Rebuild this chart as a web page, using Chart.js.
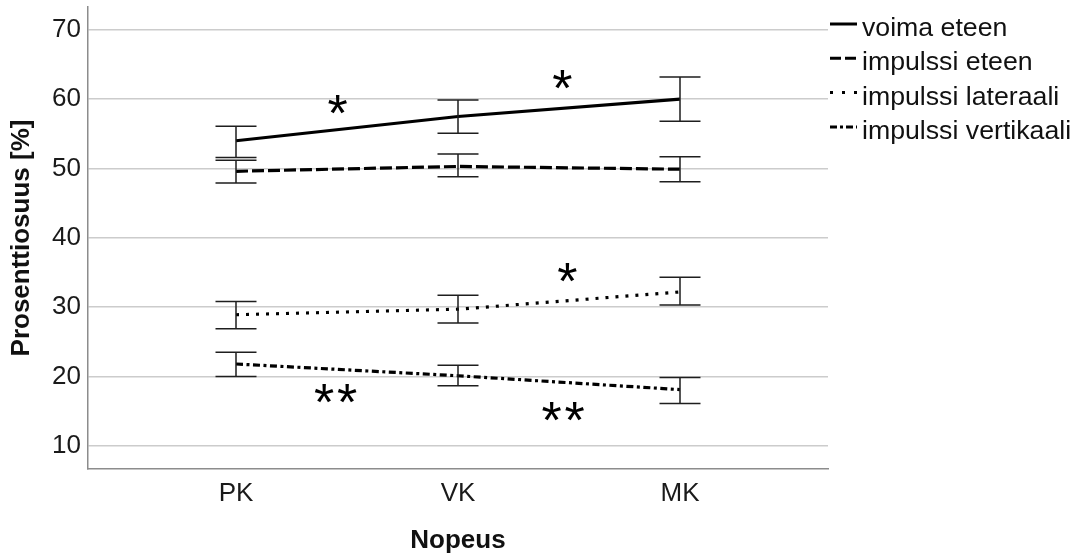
<!DOCTYPE html>
<html>
<head>
<meta charset="utf-8">
<script src="https://cdn.jsdelivr.net/npm/chart.js@4"></script>
<style>
  html, body { margin: 0; padding: 0; background: #ffffff; }
  #wrap { width: 1076px; height: 556px; }
</style>
</head>
<body>
<div id="wrap"><canvas id="chart" width="1076" height="556"></canvas></div>
<script>
// Speed categories (x axis)
const categories = ['PK', 'VK', 'MK'];
const yTicks = [10, 20, 30, 40, 50, 60, 70];

// Series means with error bar limits, in percent
const voimaEteen        = [54.0, 57.5, 60.0];
const voimaEteenLow     = [51.6, 55.1, 56.8];
const voimaEteenHigh    = [56.1, 59.9, 63.2];

const impulssiEteen     = [49.6, 50.3, 49.9];
const impulssiEteenLow  = [47.9, 48.8, 48.1];
const impulssiEteenHigh = [51.2, 52.1, 51.7];

const impulssiLat       = [28.9, 29.7, 32.2];
const impulssiLatLow    = [26.9, 27.7, 30.3];
const impulssiLatHigh   = [30.8, 31.7, 34.3];

const impulssiVert      = [21.8, 20.1, 18.1];
const impulssiVertLow   = [20.0, 18.65, 16.1];
const impulssiVertHigh  = [23.5, 21.6, 19.85];

// Significance markers (number of stars), anchored in data units between categories
const sigStars = [1, 1, 1, 2, 2];
const sigX     = [1.458, 2.470, 2.493, 1.449, 2.474];
const sigY     = [59.2, 62.9, 35.0, 17.6, 14.9];

const FONT = "'Liberation Sans', Arial, Helvetica, sans-serif";

function pts(values) {
  return values.map((v, i) => ({ x: i + 1, y: v }));
}

const datasets = [
  { label: 'voima eteen', data: pts(voimaEteen), low: voimaEteenLow, high: voimaEteenHigh,
    borderDash: [], legendDash: [] },
  { label: 'impulssi eteen', data: pts(impulssiEteen), low: impulssiEteenLow, high: impulssiEteenHigh,
    borderDash: [12, 4], legendDash: [11, 4] },
  { label: 'impulssi lateraali', data: pts(impulssiLat), low: impulssiLatLow, high: impulssiLatHigh,
    borderDash: [3, 7], legendDash: [3, 9] },
  { label: 'impulssi vertikaali', data: pts(impulssiVert), low: impulssiVertLow, high: impulssiVertHigh,
    borderDash: [7, 3.5, 3, 3.5], legendDash: [7, 3, 3, 3] }
].map(d => Object.assign(d, {
  borderColor: '#000000',
  borderWidth: 3.2,
  pointRadius: 0,
  pointHoverRadius: 0,
  tension: 0,
  fill: false,
  borderCapStyle: 'butt'
}));

// Vertical error bars with caps
const errorBars = {
  id: 'errorBars',
  afterDatasetsDraw(chart) {
    const { ctx } = chart;
    const xs = chart.scales.x, ys = chart.scales.y;
    ctx.save();
    ctx.strokeStyle = '#1e1e1e';
    ctx.lineWidth = 1.5;
    ctx.setLineDash([]);
    chart.data.datasets.forEach(ds => {
      ds.data.forEach((p, i) => {
        const x = xs.getPixelForValue(p.x);
        const y1 = ys.getPixelForValue(ds.low[i]);
        const y2 = ys.getPixelForValue(ds.high[i]);
        const half = 20.5;
        ctx.beginPath();
        ctx.moveTo(x, y1); ctx.lineTo(x, y2);
        ctx.moveTo(x - half, y1); ctx.lineTo(x + half, y1);
        ctx.moveTo(x - half, y2); ctx.lineTo(x + half, y2);
        ctx.stroke();
      });
    });
    ctx.restore();
  }
};

// Asterisks marking significant differences
const sigMarks = {
  id: 'sigMarks',
  afterDatasetsDraw(chart) {
    const { ctx } = chart;
    const xs = chart.scales.x, ys = chart.scales.y;
    const gap = 23;
    ctx.save();
    ctx.fillStyle = '#000000';
    ctx.font = '52px ' + FONT;
    ctx.textAlign = 'center';
    ctx.textBaseline = 'alphabetic';
    const m = ctx.measureText('*');
    const shift = (m.actualBoundingBoxAscent - m.actualBoundingBoxDescent) / 2;
    sigStars.forEach((n, i) => {
      const cx = xs.getPixelForValue(sigX[i]);
      const cy = ys.getPixelForValue(sigY[i]);
      for (let k = 0; k < n; k++) {
        const x = cx + (k - (n - 1) / 2) * gap;
        ctx.fillText('*', x, cy + shift);
      }
    });
    ctx.restore();
  }
};

// Legend with line samples, placed to the right of the plot
const lineLegend = {
  id: 'lineLegend',
  afterDraw(chart) {
    const { ctx } = chart;
    const area = chart.chartArea;
    const x0 = area.right + 2, sampleW = 27, textX = x0 + sampleW + 5;
    const top = area.top + 17, step = 34.3;
    ctx.save();
    ctx.font = '26.7px ' + FONT;
    ctx.fillStyle = '#111111';
    ctx.textAlign = 'left';
    ctx.textBaseline = 'alphabetic';
    chart.data.datasets.forEach((ds, i) => {
      const y = top + i * step;
      ctx.strokeStyle = '#000000';
      ctx.lineWidth = 3;
      ctx.lineCap = 'butt';
      ctx.setLineDash(ds.legendDash);
      ctx.beginPath();
      ctx.moveTo(x0, y);
      ctx.lineTo(x0 + sampleW, y);
      ctx.stroke();
      ctx.setLineDash([]);
      ctx.fillText(ds.label, textX, y + 12);
    });
    ctx.restore();
  }
};

new Chart(document.getElementById('chart'), {
  type: 'line',
  data: { datasets },
  options: {
    responsive: false,
    animation: false,
    events: [],
    layout: { padding: { top: 7, right: 248, left: 0, bottom: 0 } },
    plugins: {
      legend: { display: false },
      tooltip: { enabled: false }
    },
    scales: {
      x: {
        type: 'linear',
        min: 1 / 3,
        max: 11 / 3,
        afterBuildTicks: s => { s.ticks = categories.map((c, i) => ({ value: i + 1 })); },
        afterFit: s => { s.height = 87; s.paddingLeft = 0; s.paddingRight = 0; },
        ticks: {
          callback: v => categories[Math.round(v) - 1],
          color: '#1a1a1a',
          font: { family: FONT, size: 26 },
          padding: 9,
          maxRotation: 0,
          autoSkip: false
        },
        grid: { display: false, drawTicks: false },
        border: { display: true, color: '#8c8c8c', width: 1.5 },
        title: {
          display: true,
          text: 'Nopeus',
          color: '#111111',
          font: { family: FONT, size: 26, weight: 'bold', lineHeight: 1.2 },
          padding: { top: 0, bottom: 0 }
        }
      },
      y: {
        type: 'linear',
        min: 6.65,
        max: 73.3,
        afterBuildTicks: s => { s.ticks = yTicks.map(v => ({ value: v })); },
        afterFit: s => { s.width = 88; s.paddingTop = 0; s.paddingBottom = 0; },
        ticks: {
          color: '#1a1a1a',
          font: { family: FONT, size: 26 },
          padding: 7
        },
        grid: { color: '#cccccc', lineWidth: 1.5, drawTicks: false },
        border: { display: true, color: '#8c8c8c', width: 1.5 },
        title: {
          display: true,
          text: 'Prosenttiosuus [%]',
          color: '#111111',
          font: { family: FONT, size: 26, weight: 'bold', lineHeight: 1.2 },
          padding: { top: 6, bottom: 0 }
        }
      }
    }
  },
  plugins: [errorBars, sigMarks, lineLegend]
});
</script>
</body>
</html>
